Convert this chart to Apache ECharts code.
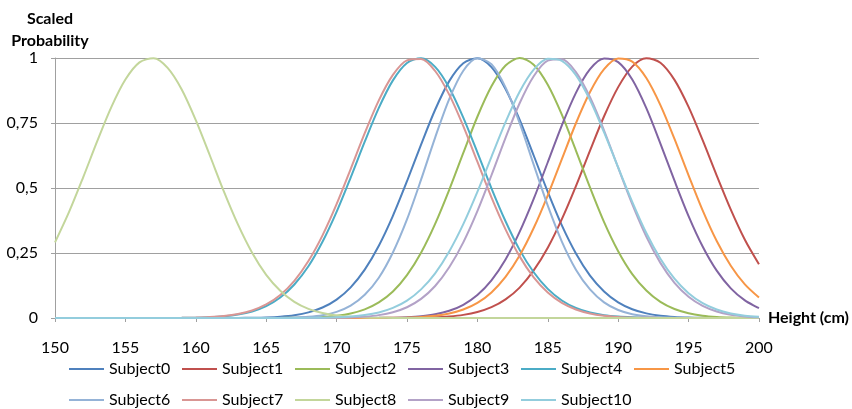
<!DOCTYPE html>
<html>
<head>
<meta charset="utf-8">
<script src="https://cdn.jsdelivr.net/npm/echarts@6/dist/echarts.min.js"></script>
<style>html,body{margin:0;padding:0;background:#fff}#c{width:852px;height:409px}</style>
</head>
<body>
<div id="c"></div>
<script>
// Heights (cm), one sample per cm
const heights = [150,151,152,153,154,155,156,157,158,159,160,161,162,163,164,165,166,167,168,169,170,171,172,173,174,175,176,177,178,179,180,181,182,183,184,185,186,187,188,189,190,191,192,193,194,195,196,197,198,199,200];
const seriesNames = ['Subject0','Subject1','Subject2','Subject3','Subject4','Subject5','Subject6','Subject7','Subject8','Subject9','Subject10'];
const yTickLabels = ['0','0,25','0,5','0,75','1'];

const subject0 = [0,0,0,0,0,0,0,0,0,0,
  0,0,0.0002,0.0004,0.0011,0.0024,0.0053,0.011,0.0217,0.0403,
  0.0708,0.118,0.186,0.278,0.393,0.526,0.667,0.801,0.911,0.98,
  0.999,0.965,0.881,0.763,0.625,0.485,0.356,0.248,0.163,0.102,
  0.0601,0.0336,0.0178,0.0089,0.0042,0.0019,0.0008,0.0003,0.0001,0,
  0];
const subject1 = [0,0,0,0,0,0,0,0,0,0,
  0,0,0,0,0,0,0,0,0,0,
  0,0,0,0.0001,0.0002,0.0005,0.0013,0.0028,0.006,0.012,
  0.0229,0.0415,0.0716,0.117,0.183,0.27,0.38,0.507,0.644,0.776,
  0.888,0.967,0.999,0.982,0.916,0.812,0.684,0.548,0.417,0.301,
  0.207];
const subject2 = [0,0,0,0,0,0,0,0,0,0,
  0,0,0,0,0,0.0001,0.0003,0.0008,0.0018,0.0041,
  0.0087,0.0175,0.0334,0.0601,0.102,0.165,0.251,0.362,0.493,0.635,
  0.774,0.891,0.971,1,0.974,0.897,0.782,0.644,0.502,0.369,
  0.257,0.169,0.106,0.0622,0.0347,0.0183,0.0091,0.0043,0.0019,0.0008,
  0.0003];
const subject3 = [0,0,0,0,0,0,0,0,0,0,
  0,0,0,0,0,0,0,0,0,0,
  0,0.0001,0.0002,0.0006,0.0014,0.0032,0.0069,0.0142,0.0277,0.0509,
  0.0885,0.145,0.225,0.331,0.458,0.599,0.741,0.866,0.957,0.998,
  0.984,0.917,0.807,0.671,0.528,0.392,0.275,0.182,0.114,0.0676,
  0.0378];
const subject4 = [0,0,0,0,0,0,0,0,0.0002,0.0006,
  0.0014,0.0031,0.0066,0.0133,0.0253,0.0459,0.0789,0.129,0.199,0.293,
  0.408,0.54,0.678,0.808,0.914,0.981,0.999,0.966,0.886,0.771,
  0.637,0.499,0.372,0.262,0.176,0.112,0.0674,0.0386,0.021,0.0108,
  0.0053,0.0025,0.0011,0.0005,0.0002,0,0,0,0,0,
  0];
const subject5 = [0,0,0,0,0,0,0,0,0,0,
  0,0,0,0,0,0,0,0,0,0,
  0,0,0.0001,0.0003,0.0008,0.0019,0.0041,0.0087,0.0173,0.0325,
  0.0581,0.0985,0.158,0.24,0.346,0.472,0.611,0.749,0.869,0.957,
  0.998,0.986,0.923,0.819,0.689,0.549,0.414,0.296,0.201,0.129,
  0.0786];
const subject6 = [0,0,0,0,0,0,0,0,0,0,
  0,0,0,0,0,0.0002,0.0007,0.0019,0.0047,0.0109,
  0.0237,0.0476,0.0891,0.155,0.252,0.379,0.532,0.694,0.842,0.951,
  0.999,0.976,0.887,0.75,0.59,0.432,0.294,0.186,0.11,0.0601,
  0.0307,0.0146,0.0064,0.0026,0.001,0.0004,0.0001,0,0,0,
  0];
const subject7 = [0,0,0,0,0,0,0,0,0.0003,0.0007,
  0.0017,0.0037,0.0077,0.0154,0.029,0.0521,0.0886,0.143,0.219,0.318,
  0.438,0.573,0.711,0.837,0.935,0.991,0.996,0.95,0.859,0.738,
  0.601,0.464,0.341,0.237,0.156,0.0979,0.0581,0.0328,0.0175,0.0089,
  0.0043,0.002,0.0008,0.0003,0,0,0,0,0,0,
  0];
const subject8 = [0.291,0.408,0.541,0.68,0.811,0.917,0.983,0.999,0.962,0.879,
  0.761,0.625,0.486,0.359,0.251,0.166,0.105,0.0623,0.0353,0.0189,
  0.0096,0.0046,0.0021,0.0009,0.0004,0,0,0,0,0,
  0,0,0,0,0,0,0,0,0,0,
  0,0,0,0,0,0,0,0,0,0,
  0];
const subject9 = [0,0,0,0,0,0,0,0,0,0,
  0,0,0,0,0,0,0,0,0.0002,0.0004,
  0.001,0.0024,0.0053,0.0111,0.0221,0.0414,0.0734,0.123,0.195,0.291,
  0.411,0.549,0.693,0.826,0.93,0.99,0.995,0.946,0.849,0.721,
  0.578,0.438,0.313,0.212,0.135,0.0818,0.0466,0.0252,0.0128,0.0062,
  0.0028];
const subject10 = [0,0,0,0,0,0,0,0,0,0,
  0,0,0,0,0,0,0,0.0002,0.0005,0.0012,
  0.0026,0.0055,0.0111,0.0213,0.0387,0.0669,0.11,0.172,0.256,0.361,
  0.485,0.62,0.753,0.87,0.955,0.997,0.989,0.934,0.838,0.714,
  0.579,0.447,0.327,0.228,0.151,0.0953,0.057,0.0325,0.0176,0.0091,
  0.0044];

const allValues = [subject0,subject1,subject2,subject3,subject4,subject5,subject6,subject7,subject8,subject9,subject10];
const colors = ['#4F81BD','#C0504D','#9BBB59','#8064A2','#4BACC6','#F79646','#95B3D7','#D99694','#C3D69B','#B3A2C7','#93CDDD'];

const FONT = 'Lato, "Open Sans", sans-serif';
const chart = echarts.init(document.getElementById('c'), null, {renderer: 'canvas'});

const series = seriesNames.map((name, i) => ({
  name: name,
  type: 'line',
  smooth: 0.3,
  symbol: 'none',
  showSymbol: false,
  lineStyle: {width: 2, color: colors[i]},
  itemStyle: {color: colors[i]},
  data: heights.map((h, j) => [h, allValues[i][j]])
}));

const legendCommon = {
  left: 69,
  padding: 0,
  orient: 'horizontal',
  icon: 'rect',
  itemWidth: 35,
  itemHeight: 2,
  itemGap: 5,
  formatter: '{a|{name}}',
  textStyle: {
    fontFamily: FONT, fontSize: 16, color: '#000',
    rich: {a: {width: 68, height: 18, lineHeight: 18, fontFamily: FONT, fontSize: 16, color: '#000'}}
  }
};

chart.setOption({
  animation: false,
  color: colors,
  grid: {left: 55, right: 93, top: 58, bottom: 91},
  legend: [
    Object.assign({}, legendCommon, {top: 360, data: seriesNames.slice(0, 6)}),
    Object.assign({}, legendCommon, {top: 391, data: seriesNames.slice(6)})
  ],
  xAxis: {
    type: 'value',
    min: 150, max: 200, interval: 5,
    name: 'Height (cm)',
    nameLocation: 'end',
    nameGap: 9,
    nameTextStyle: {fontFamily: FONT, fontSize: 16, fontWeight: 'bold', color: '#000', verticalAlign: 'middle'},
    axisLine: {show: true, onZero: false, lineStyle: {color: '#A0A0A0', width: 1}},
    axisTick: {show: true, length: 4, lineStyle: {color: '#A0A0A0'}},
    axisLabel: {margin: 22, fontFamily: FONT, fontSize: 16, color: '#000'},
    splitLine: {show: false}
  },
  yAxis: {
    type: 'value',
    min: 0, max: 1, interval: 0.25,
    axisLine: {show: true, lineStyle: {color: '#A0A0A0', width: 1}},
    axisTick: {show: true, length: 4, lineStyle: {color: '#A0A0A0'}},
    axisLabel: {
      margin: 17, fontFamily: FONT, fontSize: 16, color: '#000',
      formatter: v => yTickLabels[Math.round(v / 0.25)]
    },
    splitLine: {show: true, lineStyle: {color: '#A0A0A0', width: 1}}
  },
  graphic: [{
    type: 'text',
    x: 50, y: 8,
    style: {
      text: 'Scaled\nProbability',
      font: 'bold 16px ' + FONT,
      fill: '#000',
      align: 'center',
      verticalAlign: 'top',
      lineHeight: 22
    }
  }],
  series: series
});
</script>
</body>
</html>
